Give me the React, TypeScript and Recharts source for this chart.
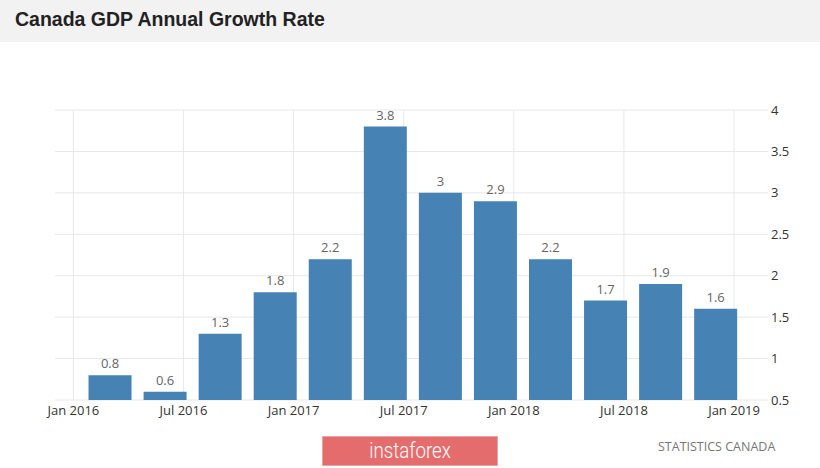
import { BarChart, Bar, XAxis, YAxis, CartesianGrid, LabelList } from "recharts";

// quarterly GDP growth, positioned at the middle month of each quarter (months since Jan 2016)
const quarters = ["Q1 2016", "Q2 2016", "Q3 2016", "Q4 2016", "Q1 2017", "Q2 2017", "Q3 2017", "Q4 2017", "Q1 2018", "Q2 2018", "Q3 2018", "Q4 2018"];
const quarterMonths = [2, 5, 8, 11, 14, 17, 20, 23, 26, 29, 32, 35];
const growth = [0.8, 0.6, 1.3, 1.8, 2.2, 3.8, 3.0, 2.9, 2.2, 1.7, 1.9, 1.6];

const xTicks = [0, 6, 12, 18, 24, 30, 36];
const xTickLabels = ["Jan 2016", "Jul 2016", "Jan 2017", "Jul 2017", "Jan 2018", "Jul 2018", "Jan 2019"];
const yTicks = [0.5, 1, 1.5, 2, 2.5, 3, 3.5, 4];

const data = quarters.map((q, i) => ({ q, m: quarterMonths[i], v: growth[i] }));

const tickFont = "'Open Sans', sans-serif";

// only draw vertical grid lines at the date ticks, not at the plot edges
function verticalLines(props: any) {
  const scale = props?.xAxis?.scale;
  if (typeof scale === "function") return xTicks.map((t) => scale(t));
  if (scale && typeof scale.map === "function") return xTicks.map((t) => scale.map(t));
  return [];
}

export default function App() {
  return (
    <div style={{ position: "absolute", left: 0, top: 0, width: 820, height: 468, background: "#fff", overflow: "hidden" }}>
      <div style={{ position: "absolute", left: 0, top: 0, width: 820, height: 42, background: "#f2f2f2" }} />
      <div
        style={{
          position: "absolute",
          left: 15,
          top: 8,
          fontFamily: "'Liberation Sans', Arial, sans-serif",
          fontWeight: 700,
          fontSize: 19.5,
          color: "#222",
        }}
      >
        Canada GDP Annual Growth Rate
      </div>

      <div style={{ position: "absolute", left: 0, top: 0 }}>
        <BarChart width={820} height={468} data={data} margin={{ top: 110, right: 0, left: 55, bottom: 48 }}>
          <CartesianGrid stroke="#e8e8e8" horizontalValues={yTicks} verticalCoordinatesGenerator={verticalLines} />
          <XAxis
            dataKey="m"
            type="number"
            domain={[-1, 37.85]}
            ticks={xTicks}
            tickFormatter={(t: number) => xTickLabels[xTicks.indexOf(t)]}
            axisLine={false}
            tickLine={false}
            tickMargin={0}
            height={20}
            interval={0}
            tick={{ fontSize: 13, fill: "#333", fontFamily: tickFont }}
          />
          <YAxis
            orientation="right"
            domain={[0.5, 4]}
            ticks={yTicks}
            axisLine={false}
            tickLine={false}
            tickSize={0}
            tickMargin={3}
            width={52}
            interval={0}
            tick={{ fontSize: 13, fill: "#333", fontFamily: tickFont, textAnchor: "start" }}
          />
          <Bar dataKey="v" fill="#4682b4" barSize={43} isAnimationActive={false}>
            <LabelList dataKey="v" position="top" offset={7} fill="#666" fontSize={13} fontFamily={tickFont} />
          </Bar>
        </BarChart>
      </div>

      <div
        style={{
          position: "absolute",
          left: 322,
          top: 436,
          width: 176,
          height: 30,
          background: "#e46c6c",
          border: "1px solid #eba3a3",
          boxSizing: "border-box",
          color: "#fff",
          fontFamily: "Roboto, sans-serif",
          fontWeight: 300,
          fontSize: 22,
          lineHeight: "27px",
          textAlign: "center",
        }}
      >
        <span style={{ display: "inline-block", transform: "scaleX(0.85)" }}>instaforex</span>
      </div>
      <div
        style={{
          position: "absolute",
          left: 658,
          top: 438,
          fontFamily: tickFont,
          fontSize: 12.5,
          color: "#777",
        }}
      >
        STATISTICS CANADA
      </div>
    </div>
  );
}
